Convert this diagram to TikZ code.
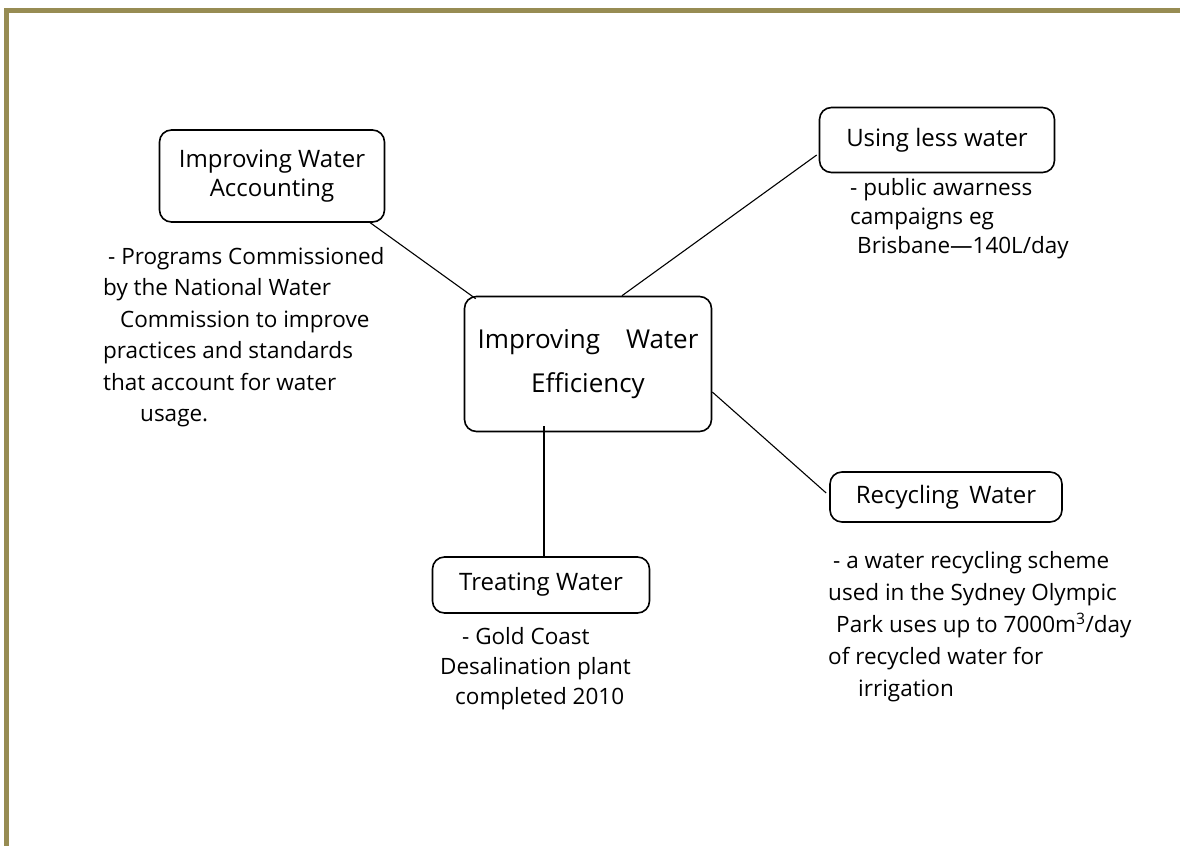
\documentclass[tikz,border=0pt]{standalone}
\usepackage{fontspec}
\setmainfont{Open Sans}
\usetikzlibrary{calc}
\definecolor{frame}{HTML}{978C53}
\tikzset{
  topic/.style={draw=black, line width=1.6pt, rounded corners=12pt, inner sep=0pt, align=center, font=\fontsize{24}{29}\selectfont},
  note/.style={anchor=north west, inner sep=0pt, align=left, font=\fontsize{22.5}{32}\selectfont},
  link/.style={draw=black, line width=1.1pt}
}
\begin{document}
\begin{tikzpicture}[x=1pt,y=-1pt]
\useasboundingbox (0,0) rectangle (1180,846);
\fill[white] (0,0) rectangle (1180,846);
\fill[frame] (4,8) rectangle (1180,13);
\fill[frame] (4,8) rectangle (9,846);

\node[topic, minimum width=247pt, minimum height=135pt, font=\fontsize{26}{44}\selectfont] (central) at (588,364) {Improving\quad Water\\Efficiency};
\node[topic, minimum width=225pt, minimum height=92pt] (acc) at (272,176) {Improving Water\\Accounting};
\node[topic, minimum width=235pt, minimum height=65pt] (using) at (937,140) {Using less water};
\node[topic, minimum width=232pt, minimum height=50pt] (recyc) at (946,497) {Recycling\, Water};
\node[topic, minimum width=217pt, minimum height=56pt] (treat) at (541,585) {Treating Water};

\node[note, font=\fontsize{22.5}{31.5}\selectfont] (acctext) at (103,247) {\hspace*{5pt}- Programs Commissioned\\by the National Water\\\hspace*{17pt}Commission to improve\\practices and standards\\that account for water\\\hspace*{37pt}usage.};
\node[note, font=\fontsize{22.5}{29}\selectfont] (usingtext) at (850,178) {- public awarness\\campaigns eg\\\hspace*{7pt}Brisbane---140L/day};
\node[note] (recyctext) at (828,551) {\hspace*{5pt}- a water recycling scheme\\used in the Sydney Olympic\\\hspace*{8pt}Park uses up to 7000m\textsuperscript{3}/day\\of recycled water for\\\hspace*{30pt}irrigation};
\node[note, font=\fontsize{22.5}{30}\selectfont] (treattext) at (440,627) {\hspace*{22pt}- Gold Coast\\Desalination plant\\\hspace*{15pt}completed 2010};

\draw[link] ($(central.north west)+(12,3)$) -- ($(acc.south east)+(-15,0)$);
\draw[link] ($(central.north)+(34,0)$) -- ($(using.west)+(-2,15)$);
\draw[link] ($(central.east)+(0,28)$) -- ($(recyc.west)+(-3,-4)$);
\draw[link] ($(central.south)+(-44,-6)$) -- ($(treat.north)+(3,0)$);
\end{tikzpicture}
\end{document}
